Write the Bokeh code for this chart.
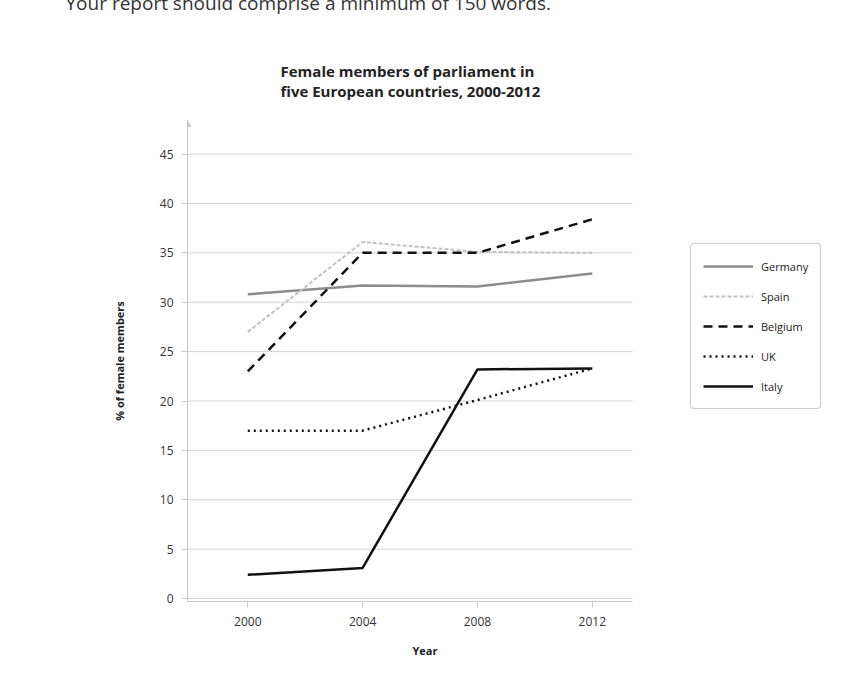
from bokeh.plotting import figure
from bokeh.models import Legend, LegendItem, Arrow, NormalHead, Title, Range1d, FixedTicker
from bokeh.embed import file_html
from bokeh.resources import INLINE

years = [2000, 2004, 2008, 2012]
germany = [30.8, 31.7, 31.6, 32.9]
spain = [27.0, 36.1, 35.1, 35.0]
belgium = [23.0, 35.0, 35.0, 38.4]
uk = [17.0, 17.0, 20.1, 23.3]
italy = [2.4, 3.1, 23.2, 23.3]
y_ticks = [0, 5, 10, 15, 20, 25, 30, 35, 40, 45]
chart_title = "Female members of parliament in\nfive European countries, 2000-2012"

FONT = "Open Sans"

SHIFT = 36
W, H = 855, 676 + SHIFT
LEFT = 187
AXIS_RIGHT = 632
x_start, x_axis_end = 1997.9, 2013.4
px_per_year = (AXIS_RIGHT - LEFT) / (x_axis_end - x_start)
x_end = x_start + (W - LEFT) / px_per_year

p = figure(width=W, height=H, output_backend="svg", toolbar_location=None,
           x_range=Range1d(x_start, x_end), y_range=Range1d(-0.3, 48.4),
           min_border_left=LEFT, min_border_right=0, min_border_top=0,
           min_border_bottom=75, outline_line_color=None,
           title="Your report should comprise a minimum of 150 words.")
p.styles = {"margin-top": f"-{SHIFT}px"}

p.title.align = "left"
p.title.offset = -122
p.title.standoff = 47
p.title.text_font = FONT
p.title.text_font_size = "19px"
p.title.text_font_style = "normal"
p.title.text_color = "#333333"

p.add_layout(Title(text=chart_title, align="left", offset=93, standoff=39,
                   text_font=FONT, text_font_size="15px", text_font_style="bold",
                   text_color="#222222"), "above")

p.xgrid.grid_line_color = None
p.ygrid.grid_line_color = None
p.segment(x0=x_start, x1=x_axis_end, y0=y_ticks, y1=y_ticks,
          line_color="#d4d4d4", line_width=1)

p.yaxis.ticker = FixedTicker(ticks=y_ticks)
p.xaxis.ticker = FixedTicker(ticks=years)
p.xaxis.bounds = (x_start, x_axis_end)
for ax in (p.xaxis, p.yaxis):
    ax.axis_line_color = "#c8c8c8"
    ax.major_tick_line_color = "#c8c8c8"
    ax.minor_tick_line_color = None
    ax.major_tick_in = 0
    ax.major_tick_out = 6
    ax.major_label_text_font = FONT
    ax.major_label_text_font_size = "12px"
    ax.major_label_text_color = "#333333"
    ax.axis_label_text_font = FONT
    ax.axis_label_text_font_style = "bold"
    ax.axis_label_text_font_size = "11px"
    ax.axis_label_text_color = "#222222"

p.xaxis.major_label_standoff = 9
p.yaxis.axis_label = "% of female members"
p.yaxis.major_label_standoff = 8
p.yaxis.axis_label_standoff = 30

p.add_layout(Title(text="Year", align="left", offset=225, standoff=24,
                   text_font=FONT, text_font_size="11px", text_font_style="bold",
                   text_color="#222222"), "below")

r_ger = p.line(years, germany, line_color="#8c8c8c", line_width=2.5)
r_spa = p.line(years, spain, line_color="#c2c2c2", line_width=2, line_dash="4 2")
r_bel = p.line(years, belgium, line_color="#111111", line_width=2.5, line_dash="9 6")
r_uk = p.line(years, uk, line_color="#111111", line_width=2.5, line_dash="2 4")
r_ita = p.line(years, italy, line_color="#111111", line_width=2.5)

legend = Legend(items=[
    LegendItem(label="Germany", renderers=[r_ger]),
    LegendItem(label="Spain", renderers=[r_spa]),
    LegendItem(label="Belgium", renderers=[r_bel]),
    LegendItem(label="UK", renderers=[r_uk]),
    LegendItem(label="Italy", renderers=[r_ita]),
], location=(503, 192))
legend.border_line_color = "#9a9a9a"
legend.border_line_width = 1
legend.border_radius = 4
legend.background_fill_alpha = 1
legend.label_text_font = FONT
legend.label_text_font_size = "11px"
legend.label_text_color = "#222222"
legend.glyph_width = 50
legend.glyph_height = 20
legend.label_height = 20
legend.spacing = 10
legend.padding = 12
legend.margin = 0
legend.label_standoff = 8
p.add_layout(legend, "center")

p.add_layout(Arrow(end=NormalHead(size=6, fill_color="#c8c8c8", line_color="#c8c8c8"),
                   x_start=x_start, y_start=p.y_range.start,
                   x_end=x_start, y_end=p.y_range.end,
                   line_color="#c8c8c8", line_width=1))

open("out.html", "w").write(file_html(p, INLINE))
